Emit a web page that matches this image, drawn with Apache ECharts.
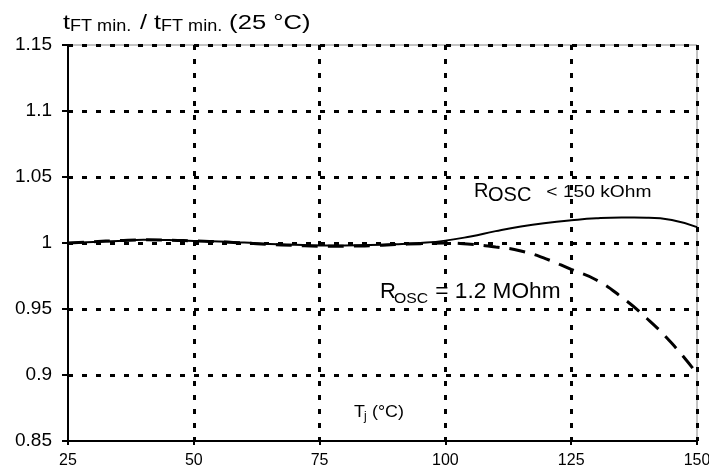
<!DOCTYPE html>
<html>
<head>
<meta charset="utf-8">
<script src="https://cdn.jsdelivr.net/npm/echarts@6/dist/echarts.min.js"></script>
<style>
html,body{margin:0;padding:0;background:#fff;}
#c{width:709px;height:475px;}
</style>
</head>
<body>
<div id="c"></div>
<script>
// Data
const temps = [25, 30, 35, 40, 45, 50, 55, 60, 65, 70, 75, 80, 85, 90, 95, 100, 105, 110, 115, 120, 125, 130, 135, 140, 145, 150];
const rOscLow = [1.000, 1.0008, 1.0015, 1.0025, 1.0022, 1.0016, 1.0012, 1.0003, 0.9992, 0.9986, 0.9982, 0.9982, 0.9984, 0.999, 1.0, 1.0018, 1.005, 1.009, 1.0125, 1.0152, 1.0172, 1.0187, 1.0193, 1.0192, 1.0175, 1.012];
const rOscHigh = [1.000, 1.001, 1.0018, 1.0024, 1.0022, 1.0016, 1.001, 1.0, 0.999, 0.9982, 0.9975, 0.9976, 0.998, 0.9988, 0.9995, 1.0, 0.999, 0.997, 0.994, 0.988, 0.980, 0.972, 0.959, 0.943, 0.924, 0.901];
const xTicks = [25, 50, 75, 100, 125, 150];
const yTicks = [0.85, 0.9, 0.95, 1, 1.05, 1.1, 1.15];
const labelLow = 'R_OSC < 150 kOhm';
const labelHigh = 'R_OSC = 1.2 MOhm';

const font = '"Liberation Sans", Arial, sans-serif';
const chart = echarts.init(document.getElementById('c'));
const gridLine = {show: true, showMinLine: false, lineStyle: {color: '#000', width: 3, type: [5, 9]}};

// text piece placed by its baseline (bottom of em box = baseline + descent)
function txt(x, baseline, text, size, scaleX) {
  return {type: 'text', x: x, y: baseline + 0.212 * size, scaleX: scaleX || 1, silent: true,
    style: {text: text, fontFamily: font, fontSize: size, fill: '#000', verticalAlign: 'bottom'}};
}

chart.setOption({
  animation: false,
  backgroundColor: '#fff',
  grid: {left: 68, right: 12, top: 45, bottom: 34, show: true, borderColor: '#888', borderWidth: 1,
    containLabel: false, outerBoundsMode: 'none'},
  xAxis: {
    type: 'value', min: xTicks[0], max: xTicks[xTicks.length - 1], interval: 25,
    axisLine: {lineStyle: {color: '#000', width: 2}},
    axisTick: {show: true, length: 4, lineStyle: {color: '#000', width: 2}},
    axisLabel: {color: '#000', fontFamily: font, fontSize: 16, margin: 12, hideOverlap: false},
    splitLine: gridLine
  },
  yAxis: {
    type: 'value', min: yTicks[0], max: yTicks[yTicks.length - 1], interval: 0.05,
    axisLine: {show: true, lineStyle: {color: '#000', width: 2}},
    axisTick: {show: true, length: 6, lineStyle: {color: '#000', width: 2}},
    axisLabel: {color: '#000', fontFamily: font, fontSize: 19, margin: 16,
      formatter: v => String(+v.toFixed(2))},
    splitLine: gridLine
  },
  series: [
    {
      name: labelLow, type: 'line', smooth: true, showSymbol: false,
      data: temps.map((t, i) => [t, rOscLow[i]]),
      lineStyle: {color: '#000', width: 2}
    },
    {
      name: labelHigh, type: 'line', smooth: true, showSymbol: false,
      data: temps.map((t, i) => [t, rOscHigh[i]]),
      lineStyle: {color: '#000', width: 3, type: [16, 10]}
    }
  ],
  graphic: [
    // title: t_FT min. / t_FT min. (25 °C)
    txt(63, 29, 't', 21, 1.2),
    txt(70, 31, 'FT min.', 16, 1.13),
    txt(133, 29, ' / t', 21, 1.2),
    txt(161, 31, 'FT min.', 16, 1.13),
    txt(222, 29, ' (25 °C)', 21, 1.22),
    // R_OSC < 150 kOhm
    txt(474, 197, 'R', 20, 1),
    txt(488, 201, 'OSC', 20, 1),
    txt(541, 197, ' < 150 kOhm', 16, 1.2),
    // R_OSC = 1.2 MOhm
    txt(380, 298, 'R', 22, 1),
    txt(394, 303, 'OSC', 15, 1.05),
    txt(429, 298, ' = 1.2 MOhm', 22, 1.03),
    // T_j (°C)
    txt(354, 417, 'T', 17, 1.05),
    txt(364, 420, 'j', 12, 1),
    txt(367, 417, ' (°C)', 17, 1.05)
  ]
});
</script>
</body>
</html>
